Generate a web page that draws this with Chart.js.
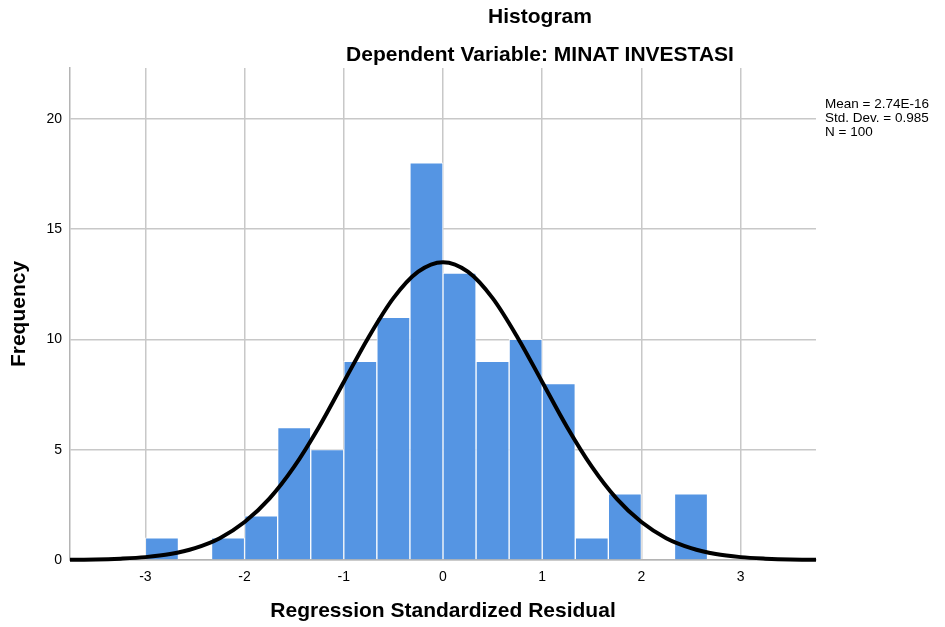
<!DOCTYPE html>
<html>
<head>
<meta charset="utf-8">
<script src="https://cdn.jsdelivr.net/npm/chart.js@4"></script>
<style>
  html, body { margin: 0; padding: 0; background: #fff; }
  #wrap { width: 945px; height: 627px; }
</style>
</head>
<body>
<div id="wrap"><canvas id="histChart"></canvas></div>
<script>
// histogram bins (width 1/3), left edges and counts
const binStarts = [-3, -8/3, -7/3, -2, -5/3, -4/3, -1, -2/3, -1/3, 0, 1/3, 2/3, 1, 4/3, 5/3, 2, 7/3];
const binCounts = [1, 0, 1, 2, 6, 5, 9, 11, 18, 13, 9, 10, 8, 1, 3, 0, 3];
const binWidth = 1 / 3;

// normal curve
const curveX = [-3.76, -3.5, -3.25, -3, -2.75, -2.5, -2.25, -2, -1.75, -1.5, -1.25, -1, -0.75, -0.5, -0.25, 0,
                0.25, 0.5, 0.75, 1, 1.25, 1.5, 1.75, 2, 2.25, 2.5, 2.75, 3, 3.25, 3.5, 3.76];
const curveY = [0.01, 0.02, 0.06, 0.13, 0.27, 0.54, 0.99, 1.72, 2.78, 4.23, 6.03, 8.07, 10.1, 11.87, 13.07, 13.5,
                13.07, 11.87, 10.1, 8.07, 6.03, 4.23, 2.78, 1.72, 0.99, 0.54, 0.27, 0.13, 0.06, 0.02, 0.01];

const xTicks = [-3, -2, -1, 0, 1, 2, 3];
const yTicks = [0, 5, 10, 15, 20];
const statsLines = ['Mean = 2.74E-16', 'Std. Dev. = 0.985', 'N = 100'];

const FONT = '"Liberation Sans", Arial, sans-serif';

const textPlugin = {
  id: 'texts',
  afterDraw(chart) {
    const c = chart.ctx;
    const a = chart.chartArea;
    c.save();
    c.fillStyle = '#000';
    c.textBaseline = 'middle';
    c.textAlign = 'center';
    c.font = 'bold 21px ' + FONT;
    c.fillText('Histogram', 540, 17);
    c.fillText('Dependent Variable: MINAT INVESTASI', 540, 55);
    c.fillText('Regression Standardized Residual', (a.left + a.right) / 2, 611);
    c.save();
    c.translate(19, (a.top + a.bottom) / 2);
    c.rotate(-Math.PI / 2);
    c.fillText('Frequency', 0, 0);
    c.restore();
    c.textAlign = 'left';
    c.font = '13.5px ' + FONT;
    statsLines.forEach((s, i) => c.fillText(s, 825, 104 + i * 14));
    c.restore();
  }
};

const ctx = document.getElementById('histChart').getContext('2d');
const histChart = new Chart(ctx, {
  data: {
    datasets: [
      {
        type: 'line',
        data: curveX.map((x, i) => ({ x: x, y: curveY[i] })),
        borderColor: '#000',
        borderWidth: 4,
        pointRadius: 0,
        cubicInterpolationMode: 'monotone',
        fill: false,
        clip: false,
        order: 0
      },
      {
        type: 'bar',
        data: binStarts.map((s, i) => ({ x: s + binWidth / 2, y: binCounts[i] })),
        backgroundColor: '#5595e3',
        borderColor: 'rgba(255,255,255,0.85)',
        borderWidth: 1,
        barPercentage: 1,
        categoryPercentage: 1,
        order: 1
      }
    ]
  },
  options: {
    responsive: true,
    maintainAspectRatio: false,
    animation: false,
    layout: { padding: { left: 0, right: 129, top: 68, bottom: 0 } },
    plugins: { legend: { display: false }, tooltip: { enabled: false } },
    scales: {
      x: {
        type: 'linear',
        min: -3.76,
        max: 3.76,
        offset: false,
        afterBuildTicks: s => { s.ticks = xTicks.map(v => ({ value: v })); },
        afterFit: s => { s.height = 67; },
        grid: { color: '#c8c8c8', lineWidth: 1.5, drawTicks: false, offset: false },
        border: { color: '#b4b4b4', width: 1.5 },
        ticks: { color: '#000', font: { family: FONT, size: 14 }, padding: 9 }
      },
      y: {
        min: 0,
        max: 22.3,
        afterBuildTicks: s => { s.ticks = yTicks.map(v => ({ value: v })); },
        afterFit: s => { s.width = 70; },
        grid: { color: '#c8c8c8', lineWidth: 1.5, drawTicks: false },
        border: { color: '#b4b4b4', width: 1.5 },
        ticks: { color: '#000', font: { family: FONT, size: 14 }, padding: 8 }
      }
    }
  },
  plugins: [textPlugin]
});
</script>
</body>
</html>
